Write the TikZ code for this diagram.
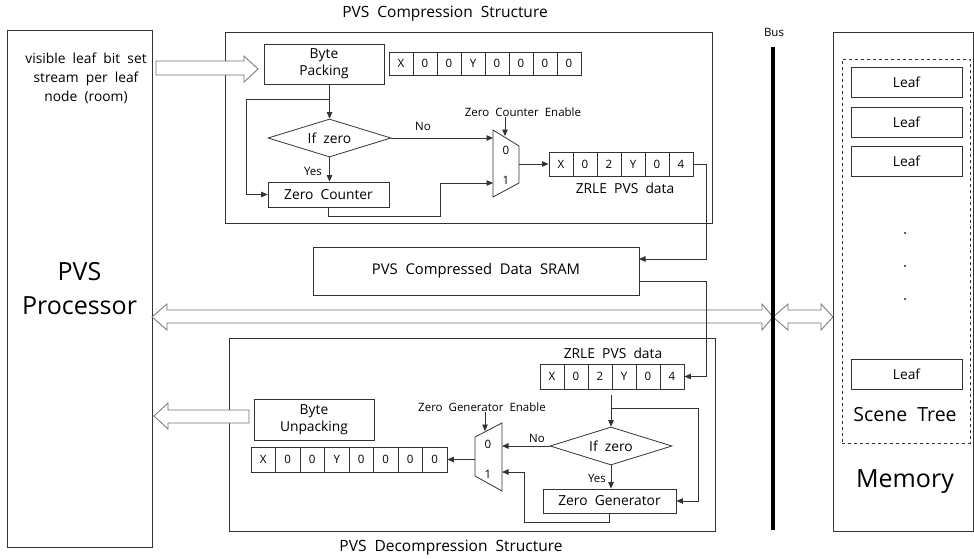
\documentclass[tikz,border=0pt]{standalone}
\usepackage{fontspec}
\setmainfont{Open Sans}[WordSpace=2]
\usetikzlibrary{arrows.meta,shapes.geometric}
\newcommand{\fsz}[2]{\fontsize{#1}{#2}\selectfont}
\begin{document}
\begin{tikzpicture}[x=1pt,y=-1pt,
  ln/.style={draw=black!80, line width=0.8pt},
  arr/.style={ln, -{Triangle[width=5.5pt,length=6.5pt]}},
  box/.style={draw=black!80, line width=0.8pt, inner sep=0pt, align=center},
  cell/.style={box, minimum width=24pt, minimum height=24pt, font=\fsz{11.5}{13}},
  blk/.style={draw=black!55, line width=0.8pt, fill=white, line join=miter},
  lbl/.style={inner sep=0pt, align=center},
  sml/.style={lbl, font=\fsz{11.5}{13}},
  dia/.style={draw=black!80, line width=0.8pt, diamond, inner sep=0pt, aspect=3.2, minimum width=123pt, minimum height=38pt, font=\fsz{13.8}{15}}
]
\useasboundingbox (0,0) rectangle (974,558);

% ---------- PVS Processor ----------
\node[box, minimum width=145pt, minimum height=517pt, font=\fsz{25}{34}] (proc) at (79.5,288.5) {PVS\\Processor};
\node[lbl, font=\fsz{13.8}{19}] (vis) at (86,78) {visible leaf bit set\\stream per leaf\\node (room)};

% ---------- Compression structure ----------
\node[box, minimum width=487pt, minimum height=191pt] (comp) at (468.5,127.5) {};
\node[lbl, font=\fsz{15.5}{17}] (compl) at (445,14) {PVS Compression Structure};
\node[box, minimum width=120pt, minimum height=40pt, font=\fsz{13.8}{17}] (bp) at (324,64) {Byte\\Packing};
\foreach \t [count=\i] in {X,0,0,Y,0,0,0,0}
  \node[cell, minimum height=23pt] (pa\i) at ({377+\i*24},63.5) {\t};
\node[dia] (d1) at (329.5,138) {If zero};
\node[box, minimum width=121pt, minimum height=25pt, font=\fsz{13.8}{15}] (zc) at (328.5,194.5) {Zero Counter};

\coordinate (m1a) at (493,130);
\coordinate (m1b) at (519,146);
\coordinate (m1c) at (519,183);
\coordinate (m1d) at (493,197);
\draw[ln, line join=miter] (m1a) -- (m1b) -- (m1c) -- (m1d) -- cycle;
\coordinate (m1in0) at (493,138);
\coordinate (m1in1) at (493,183);
\coordinate (m1out) at (519,164);
\coordinate (m1sel) at (505,136);
\node[sml] (m1l0) at (506,150) {0};
\node[sml] (m1l1) at (506,180) {1};
\node[sml] (zce) at (523,112) {Zero Counter Enable};

\foreach \t [count=\i] in {X,0,2,Y,0,4}
  \node[cell] (za\i) at ({537+\i*24},164) {\t};
\node[lbl, font=\fsz{13.8}{15}] (zal) at (625,188) {ZRLE PVS data};

\node[sml] (yes1) at (313,171) {Yes};
\node[sml] (no1) at (423,126) {No};

\coordinate (br1) at (329.5,99);
\coordinate (lb1) at (246,99);
\coordinate (zcb) at (440,216);
\coordinate (busx) at (706,0);
\coordinate (sramin) at (639,259);
\coordinate (sramout) at (639,281);

% ---------- SRAM ----------
\node[box, minimum width=326pt, minimum height=48pt, font=\fsz{14.8}{17}] (sram) at (476,271) {PVS Compressed Data SRAM};

% ---------- Decompression structure ----------
\node[box, minimum width=486pt, minimum height=193pt] (dec) at (472,434.5) {};
\node[lbl, font=\fsz{15.5}{17}] (decl) at (451,548) {PVS Decompression Structure};
\foreach \t [count=\i] in {X,0,2,Y,0,4}
  \node[cell, minimum height=25pt] (zb\i) at ({528+\i*24},376.5) {\t};
\node[lbl, font=\fsz{13.8}{15}] (zbl) at (613,353) {ZRLE PVS data};
\node[dia, minimum width=122pt] (d2) at (611,446) {If zero};
\node[box, minimum width=133pt, minimum height=24pt, font=\fsz{13.8}{15}] (zg) at (609.5,501) {Zero Generator};
\node[box, minimum width=120pt, minimum height=41pt, font=\fsz{13.8}{17}] (bu) at (314,419.5) {Byte\\Unpacking};
\foreach \t [count=\i] in {X,0,0,Y,0,0,0,0}
  \node[cell, minimum width=24.5pt, minimum height=25pt] (ua\i) at ({238.75+\i*24.5},459.5) {\t};

\coordinate (m2a) at (502,423);
\coordinate (m2b) at (475,437);
\coordinate (m2c) at (475,476);
\coordinate (m2d) at (502,491);
\draw[ln, line join=miter] (m2a) -- (m2b) -- (m2c) -- (m2d) -- cycle;
\coordinate (m2in0) at (502,446);
\coordinate (m2in1) at (502,472);
\coordinate (m2out) at (475,459.5);
\coordinate (m2sel) at (485,431);
\node[sml] (m2l0) at (488,444) {0};
\node[sml] (m2l1) at (488,474) {1};
\node[sml] (zge) at (482,407) {Zero Generator Enable};
\node[sml] (yes2) at (597,478) {Yes};
\node[sml] (no2) at (537,438) {No};

\coordinate (zbd) at (611,395);
\coordinate (br2) at (611,408);
\coordinate (rb2) at (698,408);
\coordinate (zgb) at (524,522);

% ---------- Memory ----------
\node[box, minimum width=140pt, minimum height=499pt] (mem) at (903,281.5) {};
\node[lbl, font=\fsz{25}{32}] (meml) at (905,482) {Memory};
\node[box, dashed, minimum width=128pt, minimum height=384pt] (st) at (906,251) {};
\node[lbl, font=\fsz{19.5}{22}] (stl) at (905,415) {Scene Tree};
\foreach \y [count=\i] in {82,122,161,374}
  \node[box, minimum width=111pt, minimum height=30pt, font=\fsz{13.8}{15}] (leaf\i) at (906.5,\y) {Leaf};
\foreach \y [count=\i] in {233,266,299}
  \node[circle, fill=black!85, inner sep=0pt, minimum size=2.4pt] (dot\i) at (905,\y) {};

% ---------- Bus ----------
\coordinate (bustop) at (773,47);
\coordinate (busbot) at (773,530);
\node[sml] (busl) at (774,32) {Bus};

% ---------- Block arrows ----------
\draw[blk] (156,61) -- (244,61) -- (244,56) -- (258,69) -- (244,82) -- (244,75) -- (156,75) -- cycle;
\draw[blk] (152,317) -- (167,304) -- (167,310) -- (762,310) -- (762,304) -- (773,317) -- (762,330) -- (762,323) -- (167,323) -- (167,330) -- cycle;
\draw[blk] (773,317) -- (788,304) -- (788,310) -- (821,310) -- (821,304) -- (833,317) -- (821,330) -- (821,323) -- (788,323) -- (788,330) -- cycle;
\draw[blk] (154,416) -- (168,403) -- (168,410) -- (249,410) -- (249,423) -- (168,423) -- (168,429) -- cycle;

\draw[line width=3.5pt] (bustop) -- (busbot);

% ---------- Connectors: compression ----------
\draw[arr] (d1.north |- bp.south) -- (d1.north);
\draw[arr] (br1) -- (lb1) |- (zc.west);
\draw[arr] (d1.south) -- (d1.south |- zc.north);
\draw[arr] (d1.east) -- (m1in0);
\draw[arr] (zc.south) |- (zcb) |- (m1in1);
\draw[arr] (zce.south -| m1sel) -- (m1sel);
\draw[arr] (m1out) -- (za1.west);
\draw[arr] (za6.east) -- (za6.east -| busx) |- (sramin);

% ---------- Connectors: decompression ----------
\draw[arr] (sramout) -- (sramout -| busx) |- (zb6.east);
\draw[arr] (zbd) -- (d2.north);
\draw[arr] (br2) -- (rb2) |- (zg.east);
\draw[arr] (d2.south) -- (d2.south |- zg.north);
\draw[arr] (d2.west) -- (m2in0);
\draw[arr] (zg.south) |- (zgb) |- (m2in1);
\draw[arr] (zge.south -| m2sel) -- (m2sel);
\draw[arr] (m2out) -- (ua8.east);
\end{tikzpicture}
\end{document}
